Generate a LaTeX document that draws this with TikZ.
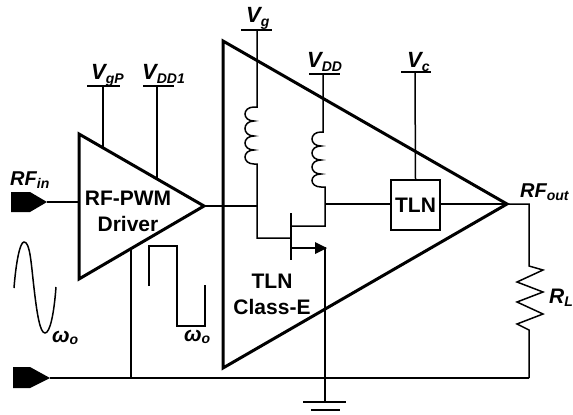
\documentclass[tikz,border=0pt]{standalone}
\usepackage{fontspec}
\setmainfont{Liberation Sans}
\tikzset{
  x=1pt,y=-1pt,
  thinw/.style={line width=1.5pt,black},
  thickw/.style={line width=3pt,black,line join=miter},
  pad/.style={fill=black,draw=none},
  lbl/.style={font=\bfseries\itshape,inner sep=0pt,anchor=base west},
  ttl/.style={font=\fontsize{21}{26}\selectfont\bfseries,inner sep=0pt,align=center},
  emptycoord/.style={inner sep=0pt,minimum size=0pt},
}
\newcommand{\vlab}[2]{{\fontsize{22}{22}\selectfont #1}{\fontsize{14}{14}\selectfont\raisebox{-4pt}{#2}}}
\begin{document}
\begin{tikzpicture}
\useasboundingbox (0,0) rectangle (573,415);
\coordinate (A1) at (79,134); \coordinate (A2) at (79,279); \coordinate (A3) at (204,206);
\coordinate (B1) at (223,41); \coordinate (B2) at (223,368); \coordinate (B3) at (507,204);
% supply wires
\node[emptycoord] (vgptop) at (103,86) {};
\node[emptycoord] (vgpbot) at (103,149) {};
\node[emptycoord] (vddatop) at (157,86) {};
\node[emptycoord] (vddabot) at (157,178) {};
\draw[thinw] (vgptop.center) -- (vgpbot.center);
\draw[thinw] (vddatop.center) -- (vddabot.center);
\draw[thinw] (87,86) -- (120,86);
\draw[thinw] (143,86) -- (174,86);
% triangles
\draw[thickw] (A1) -- (A2) -- (A3) -- cycle;
\draw[thickw] (B1) -- (B2) -- (B3) -- cycle;
% input pads
\fill[pad] (11,192) -- (30,192) -- (47,202) -- (30,212) -- (11,212) -- cycle;
\fill[pad] (13,367) -- (30,367) -- (50,378) -- (30,388) -- (13,388) -- cycle;
\draw[thinw] (47,202) -- (79,202);
\draw[thinw] (50,378) -- (529,378);
\draw[thinw] (131,378) -- (131,248);
% sine
\draw[thinw] (14,288) .. controls (16,262) and (20,242) .. (24,242)
  .. controls (30,242) and (31,262) .. (34,288)
  .. controls (37,314) and (40,333) .. (45,333)
  .. controls (50,333) and (54,314) .. (56,287);
% square
\draw[thinw] (149,286) -- (149,246) -- (177,246) -- (177,326) -- (205,326) -- (205,285);
% driver to gate
\draw[thinw] (204,206) -- (257,206);
\draw[thinw] (241,30) -- (272,30);
\draw[thinw] (257,30) -- (257,107) -- (254,107)
  .. controls (242,107) and (242,121) .. (254,121)
  .. controls (242,121) and (242,136) .. (254,136)
  .. controls (242,136) and (242,150) .. (254,150)
  .. controls (242,150) and (242,164) .. (254,164)
  -- (257,164) -- (257,238) -- (291,238);
% VDD
\draw[thinw] (309,74) -- (340,74);
\draw[thinw] (323,74) -- (323,132) -- (321,132)
  .. controls (309,132) and (309,146) .. (321,146)
  .. controls (309,146) and (309,160) .. (321,160)
  .. controls (309,160) and (309,174) .. (321,174)
  .. controls (309,174) and (309,187) .. (321,187)
  -- (325,187) -- (325,226) -- (291,226);
% transistor
\draw[thinw] (291,213) -- (291,260);
\draw[thinw] (291,248) -- (325,248) -- (325,402);
\fill (315,242) -- (327,248) -- (315,254) -- cycle;
% ground
\draw[thinw] (303,402) -- (346,402);
\draw[thinw] (311,410) -- (340,410);
% TLN box
\node[draw,thinw,minimum width=49pt,minimum height=50pt,inner sep=0pt,font=\fontsize{21}{24}\selectfont\bfseries] (tln) at (415.5,205) {TLN};
\draw[thinw] (325,204) -- (tln.west |- 0,204);
\draw[thinw] (tln.east |- 0,204) -- (507,204);
\draw[thinw] (415,72) -- (tln.north);
\draw[thinw] (401,72) -- (431,72);
% output
\draw[thinw,line join=miter] (507,204) -- (529,204) -- (529,266) -- (543,270) -- (517,282) -- (543,292) -- (517,302) -- (543,314) -- (517,324) -- (529,330) -- (529,378);
% texts
\node[ttl] (drv) at (128,211.5) {RF-PWM\\Driver};
\node[ttl] (cls) at (272,294.5) {TLN\\Class-E};
\node[lbl] (t1) at (91,79) {\vlab{V}{gP}};
\node[lbl] (t2) at (142,79) {\vlab{V}{DD1}};
\node[lbl] (t3) at (246,23) {\vlab{V}{g}};
\node[lbl] (t4) at (307,67) {\vlab{V}{DD}};
\node[lbl] (t5) at (407,67) {\vlab{V}{c}};
\node[lbl] (t6) at (10,185) {{\fontsize{20}{20}\selectfont RF}{\fontsize{14}{14}\selectfont\raisebox{-3pt}{in}}};
\node[lbl] (t7) at (520,197) {{\fontsize{20}{20}\selectfont RF}{\fontsize{14}{14}\selectfont\raisebox{-3pt}{out}}};
\node[lbl] (t8) at (549,303) {{\fontsize{21}{21}\selectfont R}{\fontsize{14}{14}\selectfont\raisebox{-3pt}{L}}};
\node[lbl] (t9) at (52,342) {{\fontsize{21}{21}\selectfont ω}{\fontsize{14}{14}\selectfont\raisebox{-2pt}{o}}};
\node[lbl] (t10) at (184,341) {{\fontsize{21}{21}\selectfont ω}{\fontsize{14}{14}\selectfont\raisebox{-2pt}{o}}};
\end{tikzpicture}
\end{document}
